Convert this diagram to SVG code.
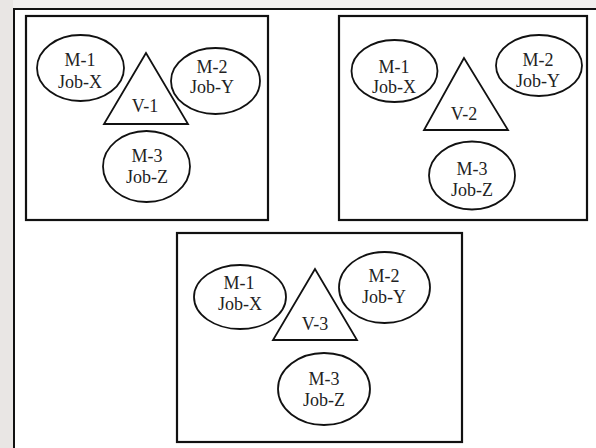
<svg xmlns="http://www.w3.org/2000/svg" width="596" height="448" viewBox="0 0 596 448">
  <style>
    .frame { fill: none; stroke: #111; stroke-width: 2; }
    .box { fill: #fff; stroke: #111; stroke-width: 2.2; }
    .machine { fill: #fff; stroke: #111; stroke-width: 1.8; }
    .vehicle { fill: #fff; stroke: #111; stroke-width: 1.8; stroke-linejoin: miter; }
    .label { font-family: "Liberation Serif", "Times New Roman", serif; font-size: 18px; fill: #222; text-anchor: middle; }
  </style>

  <!-- page background and margin strips -->
  <rect x="0" y="0" width="596" height="448" fill="#fff"/>
  <rect x="0" y="0" width="13" height="448" fill="#e9e6e4"/>
  <rect x="13" y="0" width="583" height="8" fill="#f1efee"/>

  <!-- outer frame (left and top edges) -->
  <polyline class="frame" points="14,448 14,9 596,9"/>

  <!-- no connectors in this figure -->
  <g id="connectors"></g>

  <!-- cell 1: vehicle V-1 -->
  <g id="cell-1">
    <rect class="box" x="26" y="16" width="242" height="204"/>
    <g id="cell1-m1">
      <ellipse class="machine" cx="80.5" cy="68" rx="43.5" ry="33"/>
      <text class="label" x="80" y="66">M-1</text>
      <text class="label" x="80" y="88">Job-X</text>
    </g>
    <g id="cell1-v1">
      <polygon class="vehicle" points="146,53 104,124 188,124"/>
      <text class="label" x="145" y="112">V-1</text>
    </g>
    <g id="cell1-m2">
      <ellipse class="machine" cx="215.5" cy="81" rx="44.5" ry="33"/>
      <text class="label" x="212" y="73">M-2</text>
      <text class="label" x="212" y="93">Job-Y</text>
    </g>
    <g id="cell1-m3">
      <ellipse class="machine" cx="146.5" cy="166.5" rx="43.5" ry="35.5"/>
      <text class="label" x="147" y="162">M-3</text>
      <text class="label" x="147" y="183">Job-Z</text>
    </g>
  </g>

  <!-- cell 2: vehicle V-2 -->
  <g id="cell-2">
    <rect class="box" x="339" y="16" width="248" height="204"/>
    <g id="cell2-m1">
      <ellipse class="machine" cx="394.5" cy="71" rx="43" ry="31"/>
      <text class="label" x="394" y="73">M-1</text>
      <text class="label" x="394" y="93">Job-X</text>
    </g>
    <g id="cell2-v2">
      <polygon class="vehicle" points="464,58 424,130 508,130"/>
      <text class="label" x="464" y="120">V-2</text>
    </g>
    <g id="cell2-m2">
      <ellipse class="machine" cx="539" cy="65.5" rx="43" ry="30.5"/>
      <text class="label" x="538" y="66">M-2</text>
      <text class="label" x="538" y="87">Job-Y</text>
    </g>
    <g id="cell2-m3">
      <ellipse class="machine" cx="472" cy="175.5" rx="43" ry="34"/>
      <text class="label" x="472" y="175">M-3</text>
      <text class="label" x="472" y="196">Job-Z</text>
    </g>
  </g>

  <!-- cell 3: vehicle V-3 -->
  <g id="cell-3">
    <rect class="box" x="177" y="233" width="285" height="209"/>
    <g id="cell3-m1">
      <ellipse class="machine" cx="240" cy="297" rx="46" ry="32"/>
      <text class="label" x="239" y="289">M-1</text>
      <text class="label" x="240" y="310">Job-X</text>
    </g>
    <g id="cell3-v3">
      <polygon class="vehicle" points="315,269 273,340 357,340"/>
      <text class="label" x="315" y="330">V-3</text>
    </g>
    <g id="cell3-m2">
      <ellipse class="machine" cx="384.5" cy="287.5" rx="45.5" ry="35.5"/>
      <text class="label" x="384" y="282">M-2</text>
      <text class="label" x="384" y="303">Job-Y</text>
    </g>
    <g id="cell3-m3">
      <ellipse class="machine" cx="324" cy="389" rx="46" ry="36"/>
      <text class="label" x="324" y="385">M-3</text>
      <text class="label" x="324" y="406">Job-Z</text>
    </g>
  </g>
</svg>
